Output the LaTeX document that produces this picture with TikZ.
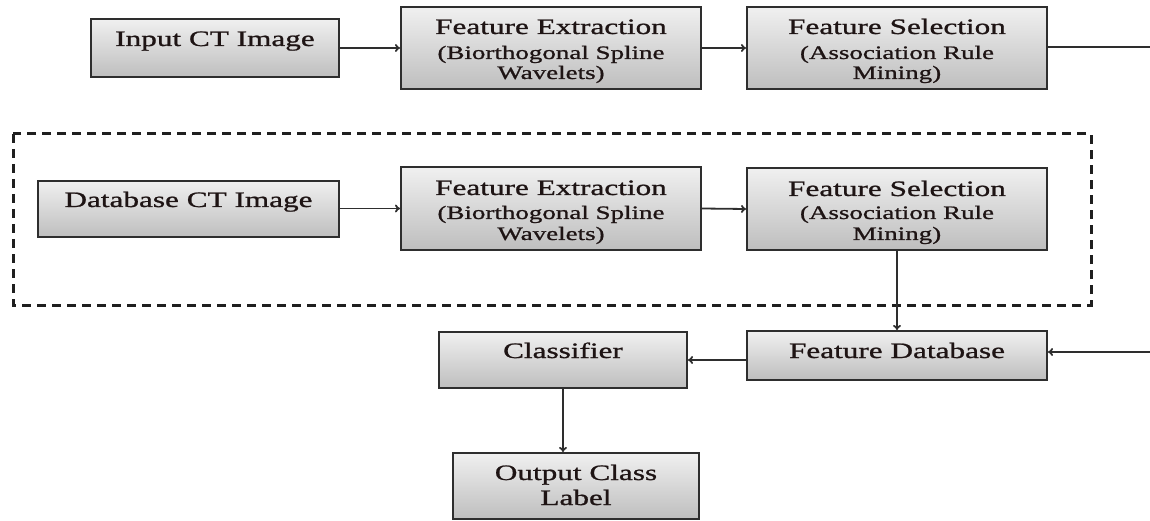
\documentclass[tikz,border=0pt]{standalone}
\usepackage{fontspec}
\setmainfont[FakeStretch=1.42,FakeBold=1.0]{Liberation Serif}
\usetikzlibrary{arrows.meta,calc}
\definecolor{edgec}{HTML}{2E2E2E}
\definecolor{topc}{HTML}{F0F0F0}
\definecolor{botc}{HTML}{BEBEBE}
\definecolor{txtc}{HTML}{1E1414}
\tikzset{
  blk/.style={draw=edgec, line width=2pt, top color=topc, bottom color=botc, inner sep=0pt},
  bigt/.style={font=\fontsize{22}{24}\selectfont, text=txtc, inner sep=0pt, anchor=base},
  smallt/.style={font=\fontsize{19}{21}\selectfont, text=txtc, inner sep=0pt, anchor=base},
  arr/.style={draw=edgec, line width=1.8pt, -{To[length=5pt,width=8pt]}},
  ln/.style={draw=edgec, line width=1.8pt},
  grp/.style={draw=black!88, line width=3pt, dash pattern=on 9pt off 6pt},
}
\begin{document}
\begin{tikzpicture}[x=1pt,y=-1pt]
\useasboundingbox (0,0) rectangle (1150,521);
% dashed group
\draw[grp] (13,134) rectangle (1091,305);
% boxes
\node[blk, minimum width=248, minimum height=58] (in)  at (215,48) {};
\node[blk, minimum width=300, minimum height=82] (fe1) at (551,48) {};
\node[blk, minimum width=300, minimum height=82] (fs1) at (897,48) {};
\node[blk, minimum width=301, minimum height=56] (db)  at (188.5,209) {};
\node[blk, minimum width=300, minimum height=83] (fe2) at (551,208.5) {};
\node[blk, minimum width=300, minimum height=82] (fs2) at (897,209) {};
\node[blk, minimum width=300, minimum height=49] (fd)  at (897,355.5) {};
\node[blk, minimum width=248, minimum height=56] (cl)  at (563,360) {};
\node[blk, minimum width=246, minimum height=66] (out) at (576,486) {};
% texts
\node[bigt] (tin) at (215,46) {Input CT Image};
\node[bigt] (tfe1a) at (551,34) {Feature Extraction};
\node[smallt] (tfe1b) at (551,59) {(Biorthogonal Spline};
\node[smallt] (tfe1c) at (551,79) {Wavelets)};
\node[bigt] (tfs1a) at (897,34) {Feature Selection};
\node[smallt] (tfs1b) at (897,59) {(Association Rule};
\node[smallt] (tfs1c) at (897,79) {Mining)};
\node[bigt] (tdb) at (188.5,207) {Database CT Image};
\node[bigt] (tfe2a) at (551,195) {Feature Extraction};
\node[smallt] (tfe2b) at (551,219) {(Biorthogonal Spline};
\node[smallt] (tfe2c) at (551,240) {Wavelets)};
\node[bigt] (tfs2a) at (897,196) {Feature Selection};
\node[smallt] (tfs2b) at (897,219) {(Association Rule};
\node[smallt] (tfs2c) at (897,240) {Mining)};
\node[bigt] (tfd) at (897,358) {Feature Database};
\node[bigt] (tcl) at (563,358) {Classifier};
\node[bigt] (tout1) at (576,480) {Output Class};
\node[bigt] (tout2) at (576,505) {Label};
% connector ends
\coordinate (r1) at (1150,47);
\coordinate (r2) at (1150,352);
% connectors
\draw[arr] (in.east) -- (fe1.west);
\draw[arr] (fe1.east) -- (fs1.west);
\draw[ln] (fs1.east |- r1) -- (r1);
\draw[arr] (db.east |- fe2.west) -- (fe2.west);
\draw[arr] (fe2.east) -- (fs2.west);
\draw[arr] (fs2.south) -- (fd.north);
\draw[arr] (r2) -- (fd.east |- r2);
\draw[arr] (fd.west |- cl.east) -- (cl.east);
\draw[arr] (cl.south) -- (cl.south |- out.north);
\end{tikzpicture}
\end{document}
